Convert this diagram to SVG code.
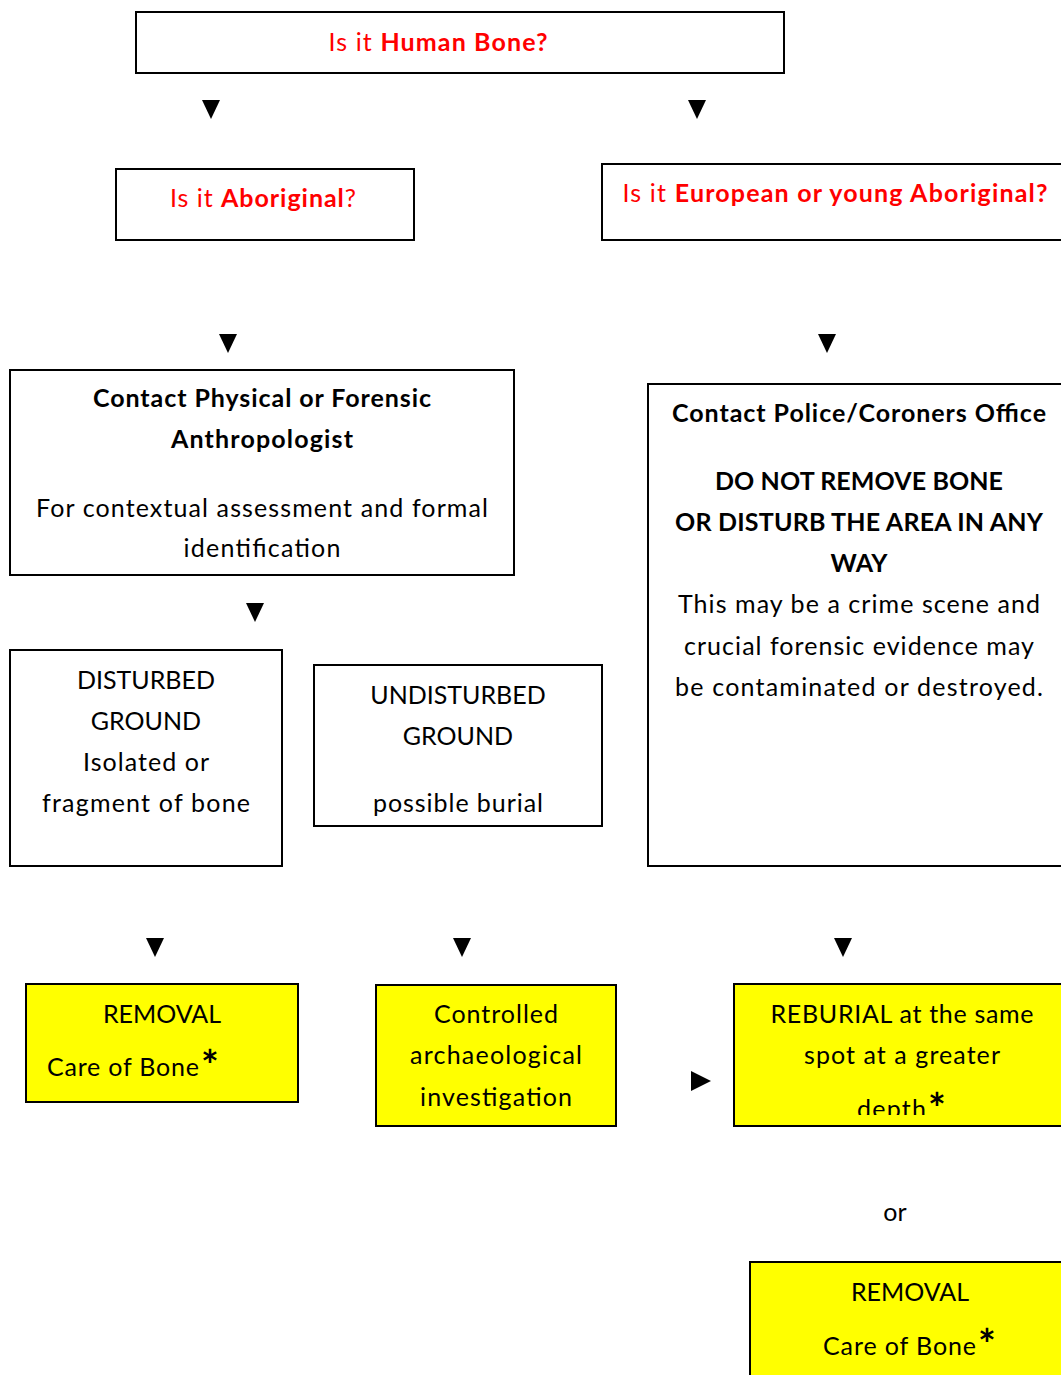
<svg xmlns="http://www.w3.org/2000/svg" width="1061" height="1375" viewBox="0 0 1061 1375">
<style>
  .box { fill: #ffffff; stroke: #000000; stroke-width: 2; }
  .ybox { fill: #ffff00; stroke: #000000; stroke-width: 2; }
  text { font-family: Lato, "Open Sans", "Liberation Sans", sans-serif; font-size: 25px; fill: #000000; text-anchor: middle; }
  .red { fill: #ff0000; }
  .b { font-weight: bold; }
  .l { text-anchor: start; }
  .star { font-size: 42px; font-weight: bold; text-anchor: start; }
  .tri { fill: #000000; }
</style>
<defs>
  <clipPath id="clipReburial"><rect x="734" y="984" width="330" height="131"/></clipPath>
</defs>
<rect width="1061" height="1375" fill="#ffffff"/>

<g id="connectors">
  <polygon class="tri" points="202,100 220,100 211,119"/>
  <polygon class="tri" points="688,100 706,100 697,119"/>
  <polygon class="tri" points="219,334 237,334 228,353"/>
  <polygon class="tri" points="818,334 836,334 827,353"/>
  <polygon class="tri" points="246,603 264,603 255,622"/>
  <polygon class="tri" points="146,938 164,938 155,957"/>
  <polygon class="tri" points="453,938 471,938 462,957"/>
  <polygon class="tri" points="834,938 852,938 843,957"/>
  <polygon class="tri" points="691,1071 691,1091 711,1081"/>
</g>

<g id="human-bone">
  <rect class="box" x="136" y="12" width="648" height="61"/>
  <text x="438" y="51" class="red" textLength="219">Is it <tspan class="b">Human Bone?</tspan></text>
</g>

<g id="aboriginal">
  <rect class="box" x="116" y="169" width="298" height="71"/>
  <text x="263" y="207" class="red" textLength="186">Is it <tspan class="b">Aboriginal</tspan>?</text>
</g>

<g id="european">
  <rect class="box" x="602" y="164" width="470" height="76"/>
  <text x="835" y="202" class="red" textLength="425">Is it <tspan class="b">European or young Aboriginal?</tspan></text>
</g>

<g id="anthropologist">
  <rect class="box" x="10" y="370" width="504" height="205"/>
  <text x="262" y="407" class="b" textLength="338">Contact Physical or Forensic</text>
  <text x="262" y="448" class="b" textLength="182">Anthropologist</text>
  <text x="262" y="517" textLength="452">For contextual assessment and formal</text>
  <text x="262" y="557" textLength="157">identification</text>
</g>

<g id="police">
  <rect class="box" x="648" y="384" width="424" height="482"/>
  <text x="859" y="422" class="b" textLength="374">Contact Police/Coroners Office</text>
  <text x="859" y="490" class="b" textLength="288">DO NOT REMOVE BONE</text>
  <text x="859" y="531" class="b" textLength="368">OR DISTURB THE AREA IN ANY</text>
  <text x="859" y="572" class="b">WAY</text>
  <text x="859" y="613" textLength="362">This may be a crime scene and</text>
  <text x="859" y="655" textLength="350">crucial forensic evidence may</text>
  <text x="859" y="696" textLength="368">be contaminated or destroyed.</text>
</g>

<g id="disturbed">
  <rect class="box" x="10" y="650" width="272" height="216"/>
  <text x="146" y="689">DISTURBED</text>
  <text x="146" y="730">GROUND</text>
  <text x="146" y="771" textLength="126">Isolated or</text>
  <text x="146" y="812" textLength="208">fragment of bone</text>
</g>

<g id="undisturbed">
  <rect class="box" x="314" y="665" width="288" height="161"/>
  <text x="458" y="704">UNDISTURBED</text>
  <text x="458" y="745">GROUND</text>
  <text x="458" y="812" textLength="170">possible burial</text>
</g>

<g id="removal-1">
  <rect class="ybox" x="26" y="984" width="272" height="118"/>
  <text x="162" y="1023">REMOVAL</text>
  <text x="47" y="1076" class="l" textLength="152">Care of Bone</text>
  <text x="201" y="1081" class="star">*</text>
</g>

<g id="controlled">
  <rect class="ybox" x="376" y="985" width="240" height="141"/>
  <text x="496" y="1023" textLength="124">Controlled</text>
  <text x="496" y="1064" textLength="172">archaeological</text>
  <text x="496" y="1106" textLength="152">investigation</text>
</g>

<g id="reburial">
  <rect class="ybox" x="734" y="984" width="338" height="142"/>
  <g clip-path="url(#clipReburial)">
    <text x="902" y="1023" textLength="263">REBURIAL at the same</text>
    <text x="902" y="1064" textLength="196">spot at a greater</text>
    <text x="857" y="1118" class="l" textLength="69">depth</text>
  </g>
  <text x="928" y="1124" class="star">*</text>
</g>

<g id="or-label">
  <text x="895" y="1221">or</text>
</g>

<g id="removal-2">
  <rect class="ybox" x="750" y="1262" width="322" height="125"/>
  <text x="910" y="1301">REMOVAL</text>
  <text x="823" y="1355" class="l" textLength="153">Care of Bone</text>
  <text x="978" y="1360" class="star">*</text>
</g>
</svg>
